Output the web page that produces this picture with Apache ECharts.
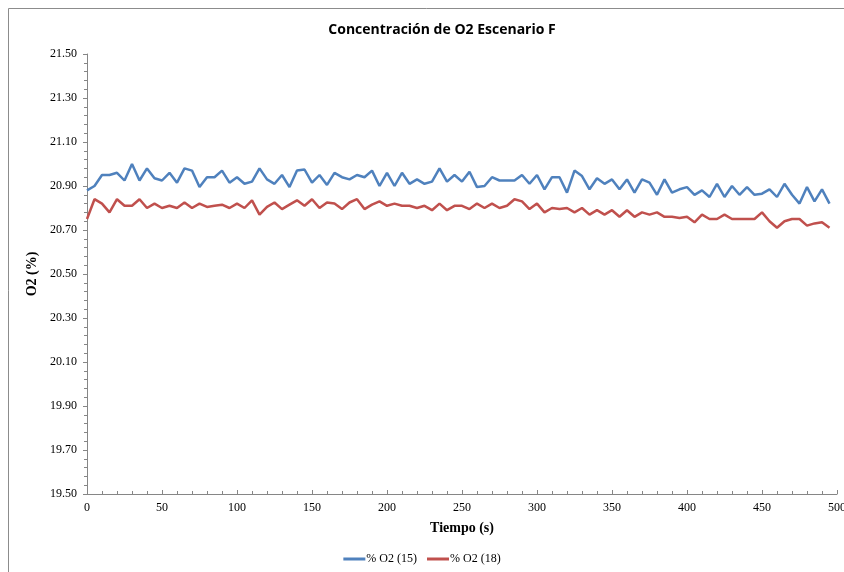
<!DOCTYPE html>
<html><head><meta charset="utf-8">
<script src="https://cdn.jsdelivr.net/npm/echarts@6/dist/echarts.min.js"></script>
<style>html,body{margin:0;padding:0;background:#fff}#c{width:844px;height:572px}</style>
</head><body><div id="c"></div>
<script>
const times = [0,5,10,15,20,25,30,35,40,45,50,55,60,65,70,75,80,85,90,95,
100,105,110,115,120,125,130,135,140,145,150,155,160,165,170,175,180,185,190,195,
200,205,210,215,220,225,230,235,240,245,250,255,260,265,270,275,280,285,290,295,
300,305,310,315,320,325,330,335,340,345,350,355,360,365,370,375,380,385,390,395,
400,405,410,415,420,425,430,435,440,445,450,455,460,465,470,475,480,485,490,495];
const o2_15 = [20.88,20.90,20.95,20.95,20.96,20.925,21.00,20.925,20.98,20.935,
20.925,20.96,20.915,20.98,20.97,20.895,20.94,20.94,20.97,20.915,
20.94,20.91,20.92,20.98,20.93,20.91,20.95,20.895,20.97,20.975,
20.915,20.95,20.905,20.96,20.94,20.93,20.95,20.94,20.97,20.90,
20.96,20.90,20.96,20.91,20.93,20.91,20.92,20.98,20.92,20.95,
20.92,20.965,20.895,20.90,20.94,20.925,20.925,20.925,20.95,20.91,
20.95,20.885,20.94,20.94,20.87,20.97,20.945,20.885,20.935,20.91,
20.93,20.885,20.93,20.87,20.93,20.915,20.86,20.93,20.87,20.885,
20.895,20.86,20.88,20.85,20.91,20.85,20.90,20.86,20.895,20.86,
20.865,20.885,20.85,20.91,20.86,20.82,20.895,20.83,20.885,20.82];
const o2_18 = [20.75,20.84,20.82,20.78,20.84,20.81,20.81,20.84,20.80,20.82,
20.80,20.81,20.80,20.825,20.80,20.82,20.805,20.81,20.815,20.80,
20.82,20.80,20.835,20.77,20.805,20.825,20.795,20.815,20.835,20.81,
20.84,20.80,20.825,20.82,20.795,20.825,20.84,20.795,20.815,20.83,
20.81,20.82,20.81,20.81,20.80,20.81,20.79,20.82,20.79,20.81,
20.81,20.795,20.82,20.80,20.82,20.80,20.81,20.84,20.83,20.795,
20.82,20.78,20.80,20.795,20.80,20.78,20.80,20.77,20.79,20.77,
20.79,20.76,20.79,20.76,20.78,20.77,20.78,20.76,20.76,20.755,
20.76,20.735,20.77,20.75,20.75,20.77,20.75,20.75,20.75,20.75,
20.78,20.74,20.71,20.74,20.75,20.75,20.72,20.73,20.735,20.71];
const seriesNames = ['% O2 (15)','% O2 (18)'];
const titleText = 'Concentración de O2 Escenario F';
const xName = 'Tiempo (s)';
const yName = 'O2 (%)';

const chart = echarts.init(document.getElementById('c'), null, {renderer:'canvas'});
const serif = '"Liberation Serif","Times New Roman",serif';
const axisGray = '#868686';
chart.setOption({
  animation:false,
  backgroundColor:'#fff',
  graphic:[{type:'rect',shape:{x:8.5,y:8.5,width:900,height:700},style:{fill:'none',stroke:'#8c8c8c',lineWidth:1},z:-1}],
  title:{text:titleText,left:437,top:18,textAlign:'center',
    textStyle:{fontFamily:'"Open Sans","Liberation Sans",sans-serif',fontWeight:'bold',fontSize:14,color:'#000'}},
  legend:{bottom:2,left:'center',itemWidth:22,itemHeight:3,itemGap:10,icon:'rect',
    textStyle:{fontFamily:serif,fontSize:12,color:'#000',padding:[0,0,0,-4]},
    data:seriesNames},
  grid:{left:87,right:7,top:54,bottom:78,containLabel:false,outerBoundsMode:'none'},
  xAxis:{type:'value',min:0,max:500,interval:50,
    name:xName,nameLocation:'middle',nameGap:27,
    nameTextStyle:{fontFamily:serif,fontWeight:'bold',fontSize:14,color:'#000'},
    axisLine:{show:true,lineStyle:{color:axisGray}},
    axisTick:{show:true,inside:true,length:4,lineStyle:{color:axisGray}},
    minorTick:{show:true,splitNumber:5,length:3,lineStyle:{color:axisGray}},
    splitLine:{show:false},
    axisLabel:{fontFamily:serif,fontSize:12,color:'#000',margin:8,hideOverlap:false}},
  yAxis:{type:'value',min:19.5,max:21.5,interval:0.2,
    name:yName,nameLocation:'middle',nameGap:46,nameRotate:90,
    nameTextStyle:{fontFamily:serif,fontWeight:'bold',fontSize:14,color:'#000'},
    axisLine:{show:true,lineStyle:{color:axisGray}},
    axisTick:{show:true,inside:false,length:4,lineStyle:{color:axisGray}},
    minorTick:{show:true,splitNumber:5,length:3,lineStyle:{color:axisGray}},
    splitLine:{show:false},
    axisLabel:{fontFamily:serif,fontSize:12,color:'#000',margin:10,formatter:v=>v.toFixed(2)}},
  series:[
    {name:seriesNames[0],type:'line',showSymbol:false,symbol:'none',
      data:times.map((t,i)=>[t,o2_15[i]]),lineStyle:{color:'#4F81BD',width:2.5},itemStyle:{color:'#4F81BD'}},
    {name:seriesNames[1],type:'line',showSymbol:false,symbol:'none',
      data:times.map((t,i)=>[t,o2_18[i]]),lineStyle:{color:'#C0504D',width:2.5},itemStyle:{color:'#C0504D'}}
  ]
});
</script></body></html>
